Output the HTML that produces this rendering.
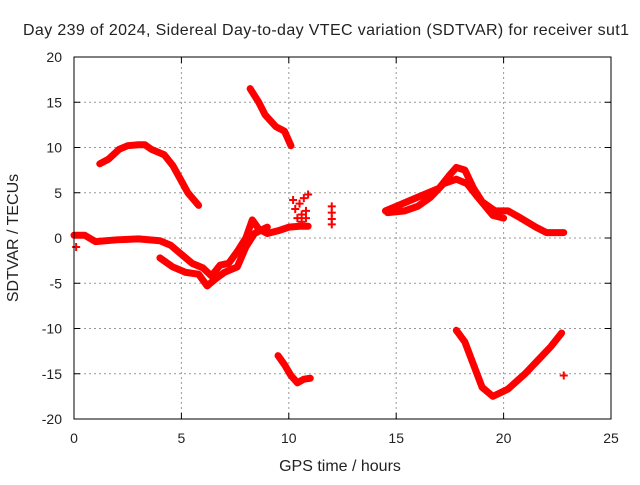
<!DOCTYPE html>
<html><head><meta charset="utf-8"><style>
body{margin:0;background:#fff}
text{font-family:"Liberation Sans",sans-serif;font-size:14px;fill:#222}
.big{font-size:16px}
</style></head><body>
<svg id="c" width="640" height="480">
<rect width="640" height="480" fill="#fff"/>
<text class="big" x="326" y="35" text-anchor="middle" textLength="606">Day 239 of 2024, Sidereal Day-to-day VTEC variation (SDTVAR) for receiver sut1</text>
<text class="big" x="340" y="471" text-anchor="middle">GPS time / hours</text>
<text class="big" transform="translate(18,238) rotate(-90)" text-anchor="middle">SDTVAR / TECUs</text>
<g id="grid"></g><g id="marks"></g>
<rect x="74" y="57" width="537" height="362" fill="none" stroke="#000"/>
</svg>
<script>
const xTicks=[0,5,10,15,20,25];
const yTicks=[20,15,10,5,0,-5,-10,-15,-20];
const trackA=[[1.2,8.2],[1.6,8.7],[2.1,9.8],[2.5,10.2],[3.0,10.3],[3.3,10.3],[3.6,9.8],[4.2,9.2],[4.6,8.0],[5.0,6.3],[5.3,5.0],[5.8,3.6]];
const trackB=[[0,0.3],[0.5,0.3],[1,-0.4],[2,-0.2],[3,-0.1],[4,-0.3],[4.5,-0.8],[5,-1.8],[5.5,-2.8],[6,-3.3],[6.4,-4.2],[6.8,-3.0],[7.2,-2.8],[7.6,-1.5],[8.0,0.0],[8.3,2.0],[8.6,1.0],[9,0.5],[9.5,0.8],[10,1.2],[10.5,1.3],[10.9,1.3]];
const trackC=[[4,-2.2],[4.6,-3.2],[5.2,-3.8],[5.8,-4.0],[6.2,-5.3],[6.6,-4.5],[7,-3.8],[7.6,-3.2],[8.0,-1.0],[8.4,0.5],[9,1.2]];
const trackD=[[8.2,16.5],[8.6,15],[8.9,13.6],[9.4,12.3],[9.8,11.8],[10.1,10.2]];
const trackE=[[9.5,-13],[9.8,-14],[10.1,-15.2],[10.4,-16],[10.7,-15.6],[11,-15.5]];
const trackF=[[14.5,3],[15,3.5],[16,4.5],[16.5,5],[17,5.5],[17.5,7],[17.8,7.8],[18.2,7.5],[18.6,5.5],[19,4],[19.6,3],[20.2,3],[20.8,2.2],[21.5,1.2],[22,0.6],[22.8,0.6]];
const trackF2=[[14.6,2.8],[15.4,3.0],[16,3.5],[16.6,4.5],[17.2,6.0],[17.8,6.5],[18.3,6],[18.8,4.5],[19.5,2.5],[20,2.2]];
const trackG=[[17.8,-10.2],[18.2,-11.5],[18.6,-14],[19,-16.5],[19.5,-17.5],[20.2,-16.7],[21,-15],[21.6,-13.5],[22.2,-12],[22.7,-10.5]];
const scatter=[[0.1,-1],[10.2,4.2],[10.3,3.2],[10.5,3.8],[10.6,2.6],[10.7,4.4],[10.8,3.0],[10.9,4.8],[10.4,2.2],[10.6,1.8],[10.8,2.2],[12,3.5],[12,2.8],[12,2.1],[12,1.5],[22.8,-15.2]];
const tracks=[trackA,trackB,trackC,trackD,trackE,trackF,trackF2,trackG];
const sx=h=>74+h*537/25, sy=v=>238-v*362/40;
const NS='http://www.w3.org/2000/svg';
const g=document.getElementById('grid'), m=document.getElementById('marks');
function mk(t,a,p){const e=document.createElementNS(NS,t);for(const k in a)e.setAttribute(k,a[k]);p.appendChild(e);return e;}
xTicks.forEach(t=>{const x=sx(t);
 if(t>0&&t<25){const l=mk('line',{x1:x,x2:x,y1:57,y2:419,stroke:'#999','stroke-dasharray':'2,3'},g);
 
 }
 mk('line',{x1:x,x2:x,y1:419,y2:413,stroke:'#000'},g);mk('line',{x1:x,x2:x,y1:57,y2:63,stroke:'#000'},g);
 const tx=mk('text',{x:x,y:443,'text-anchor':'middle'},g);tx.textContent=t;
 
 });
yTicks.forEach(t=>{const y=sy(t);
 if(t>-20&&t<20){const l=mk('line',{x1:74,x2:611,y1:y,y2:y,stroke:'#999','stroke-dasharray':'2,3'},g);
 
 }
 mk('line',{x1:74,x2:80,y1:y,y2:y,stroke:'#000'},g);mk('line',{x1:605,x2:611,y1:y,y2:y,stroke:'#000'},g);
 const tx=mk('text',{x:62,y:y+5,'text-anchor':'end'},g);tx.textContent=t;
 
 });
tracks.forEach(tr=>{
 const p=mk('polyline',{points:tr.map(d=>sx(d[0])+','+sy(d[1])).join(' '),fill:'none',stroke:'#f00','stroke-width':7,'stroke-linejoin':'round','stroke-linecap':'round'},m);
 
 });
scatter.forEach(d=>{const x=sx(d[0]),y=sy(d[1]);
 const p=mk('path',{d:`M${x-4},${y}H${x+4}M${x},${y-4}V${y+4}`,stroke:'#f00','stroke-width':2},m);
 
 });
</script>
</body></html>
